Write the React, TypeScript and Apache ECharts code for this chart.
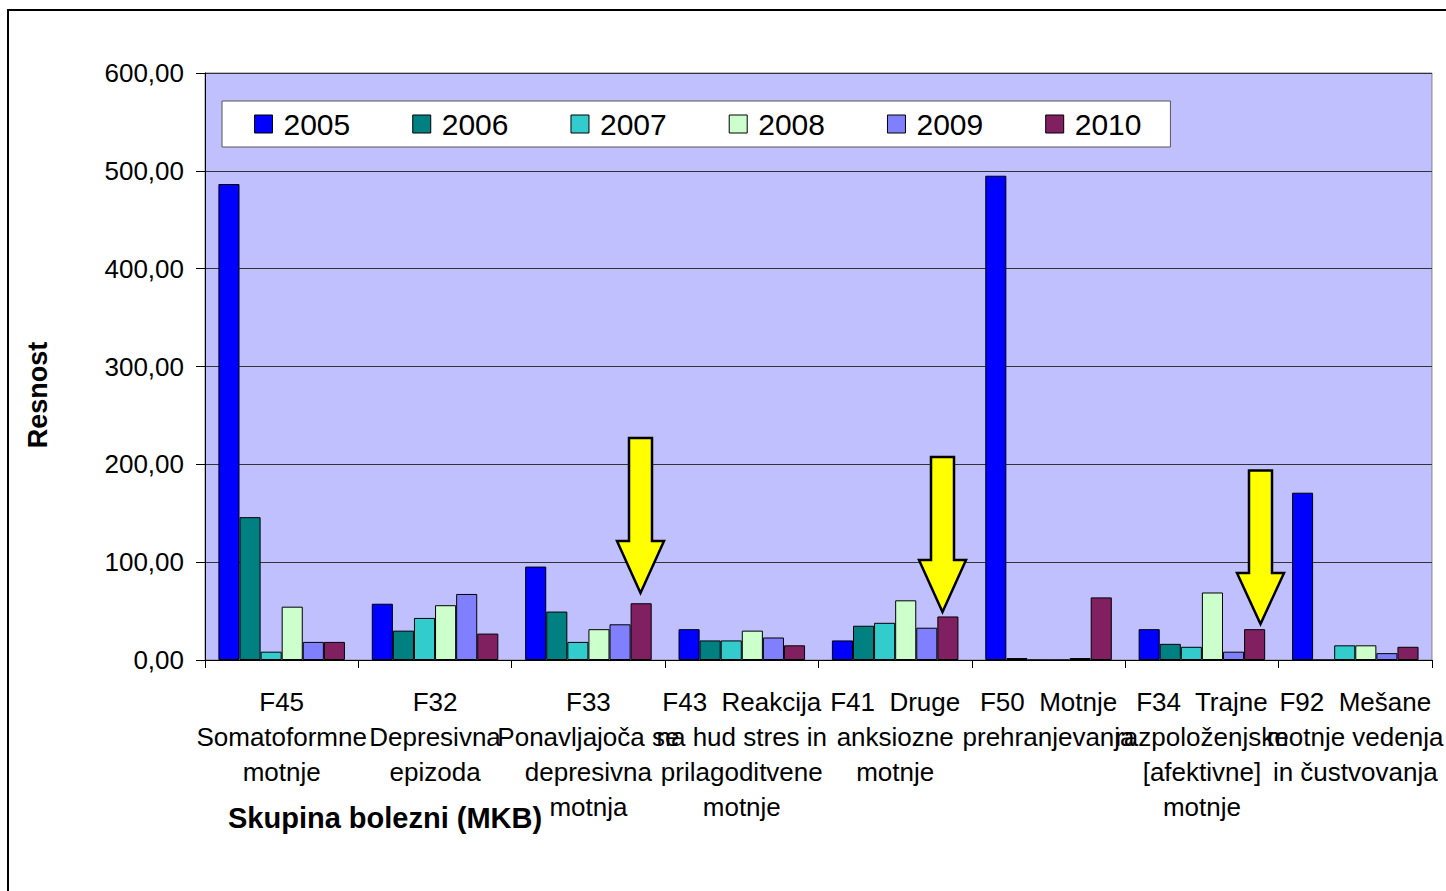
import React, { useEffect, useRef } from "react";
import * as echarts from "echarts";

const categories = [
  "F45\nSomatoformne\nmotnje",
  "F32\nDepresivna\nepizoda",
  "F33\nPonavljajoča se\ndepresivna\nmotnja",
  "F43  Reakcija\nna hud stres in\nprilagoditvene\nmotnje",
  "F41  Druge\nanksiozne\nmotnje",
  "F50  Motnje\nprehranjevanja",
  "F34  Trajne\nrazpoloženjske\n[afektivne]\nmotnje",
  "F92  Mešane\nmotnje vedenja\nin čustvovanja",
];

const years = ["2005", "2006", "2007", "2008", "2009", "2010"];

const s2005 = [486.5, 57.5, 95.5, 31.5, 20, 495, 31.5, 171];
const s2006 = [146, 30, 49.5, 20, 35, 2, 16.5, 0];
const s2007 = [8.5, 43, 18.5, 20, 38, 0, 13.5, 15];
const s2008 = [54.5, 56, 31.5, 30, 61, 0, 69, 15];
const s2009 = [18.5, 67.5, 36.5, 23, 33, 2, 8.5, 7];
const s2010 = [18.5, 27, 58, 15, 44.5, 64, 31.5, 13.5];

const seriesValues = [s2005, s2006, s2007, s2008, s2009, s2010];
const colors = ["#0000FF", "#008080", "#33CCCC", "#CCFFCC", "#8080FF", "#802060"];

const yTicks = { min: 0, max: 600, interval: 100 };

const FONT = "'Liberation Sans', Arial, sans-serif";

function arrow(cx: number, top: number, headY: number, tip: number) {
  const sw = 11.5;
  const hw = 23.5;
  return {
    type: "polygon",
    shape: {
      points: [
        [cx - sw, top],
        [cx + sw, top],
        [cx + sw, headY],
        [cx + hw, headY],
        [cx, tip],
        [cx - hw, headY],
        [cx - sw, headY],
      ],
    },
    style: { fill: "#FFFF00", stroke: "#000", lineWidth: 2.5, lineJoin: "miter" },
    z: 100,
  };
}

export default function App() {
  const ref = useRef<HTMLDivElement>(null);
  useEffect(() => {
    if (!ref.current) return;
    const chart = echarts.init(ref.current, undefined, { renderer: "svg" });
    chart.setOption({
      animation: false,
      backgroundColor: "#fff",
      textStyle: { fontFamily: FONT },
      grid: {
        left: 205,
        top: 73,
        width: 1234,
        height: 587,
        show: true,
        backgroundColor: "#C0C0FF",
        borderColor: "#808080",
        borderWidth: 1,
      },
      legend: {
        left: 222,
        top: 101,
        orient: "horizontal",
        backgroundColor: "#fff",
        borderColor: "#555",
        borderWidth: 1,
        borderRadius: 0,
        padding: [8, 29, 8, 32],
        itemWidth: 18,
        itemHeight: 18,
        itemGap: 62,
        icon: "rect",
        itemStyle: { borderColor: "#000", borderWidth: 1 },
        textStyle: { fontSize: 30, color: "#000", fontFamily: FONT, padding: [0, 0, 0, 6] },
        data: years,
      },
      xAxis: {
        type: "category",
        data: categories,
        axisLine: { show: true, lineStyle: { color: "#000", width: 1 } },
        axisTick: { show: true, interval: 0, length: 8, lineStyle: { color: "#000" } },
        axisLabel: {
          interval: 0,
          margin: 24,
          fontSize: 26,
          lineHeight: 35,
          color: "#000",
          fontFamily: FONT,
          hideOverlap: false,
        },
        splitLine: { show: false },
      },
      yAxis: {
        type: "value",
        min: yTicks.min,
        max: yTicks.max,
        interval: yTicks.interval,
        axisLine: { show: true, lineStyle: { color: "#000", width: 1 } },
        axisTick: { show: true, inside: false, length: 9, lineStyle: { color: "#000" } },
        axisLabel: {
          margin: 21,
          fontSize: 26,
          color: "#000",
          fontFamily: FONT,
          formatter: (v: number) => v.toFixed(2).replace(".", ","),
        },
        splitLine: { show: true, lineStyle: { color: "#333", width: 1 } },
      },
      series: years.map((y, i) => ({
        name: y,
        type: "bar",
        data: seriesValues[i],
        barGap: "0%",
        barCategoryGap: "17.5%",
        itemStyle: { color: colors[i], borderColor: "#000", borderWidth: 1 },
      })),
      graphic: [
        {
          type: "rect",
          shape: { x: 8, y: 10, width: 1600, height: 1000 },
          style: { fill: "none", stroke: "#000", lineWidth: 2 },
          z: 200,
          silent: true,
        },
        {
          type: "text",
          x: 38,
          y: 395,
          rotation: Math.PI / 2,
          style: {
            text: "Resnost",
            font: `bold 27px ${FONT}`,
            fill: "#000",
            align: "center",
            verticalAlign: "middle",
          },
        },
        {
          type: "text",
          x: 228,
          y: 818,
          style: {
            text: "Skupina bolezni (MKB)",
            font: `bold 29px ${FONT}`,
            fill: "#000",
            align: "left",
            verticalAlign: "middle",
          },
        },
        arrow(640.5, 438, 541, 593),
        arrow(942.5, 457, 560, 612),
        arrow(1260.5, 470.5, 573, 624),
      ],
    });
    return () => chart.dispose();
  }, []);
  return (
    <div
      ref={ref}
      style={{ position: "fixed", left: 0, top: 0, width: 1446, height: 891 }}
    />
  );
}
